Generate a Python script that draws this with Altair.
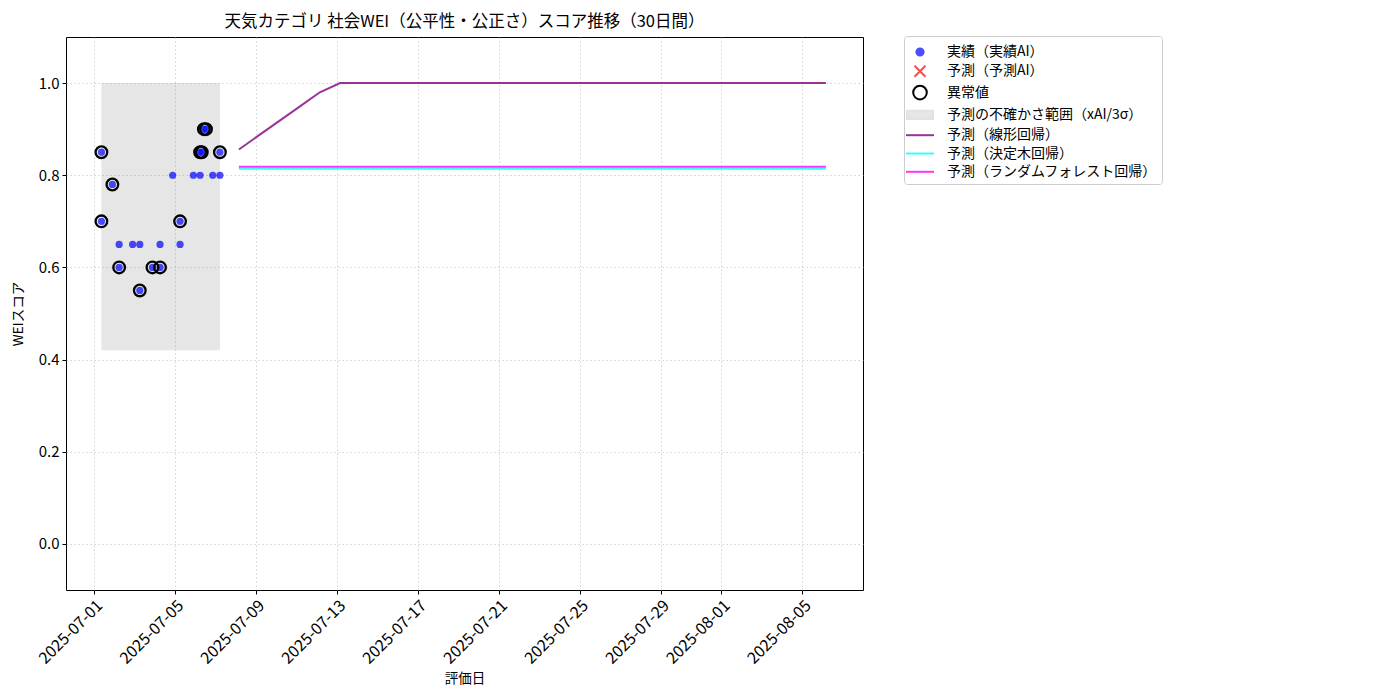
import altair as alt
import pandas as pd

FONT = "Noto Sans CJK JP"

# ---- actual (実績) points ----
act_time = [
    "2025-07-01T09:00", "2025-07-01T09:00", "2025-07-01T22:00",
    "2025-07-02T06:00", "2025-07-02T06:00", "2025-07-02T22:00",
    "2025-07-03T06:30", "2025-07-03T06:30", "2025-07-03T21:30",
    "2025-07-04T06:30", "2025-07-04T06:30", "2025-07-04T21:30",
    "2025-07-05T06:15", "2025-07-05T06:15", "2025-07-05T22:00",
    "2025-07-06T06:00", "2025-07-06T06:00", "2025-07-06T08:00",
    "2025-07-06T10:30", "2025-07-06T13:00", "2025-07-06T21:00",
    "2025-07-07T05:30", "2025-07-07T05:30",
]
act_value = [
    0.85, 0.70, 0.78,
    0.65, 0.60, 0.65,
    0.65, 0.55, 0.60,
    0.65, 0.60, 0.80,
    0.70, 0.65, 0.80,
    0.80, 0.85, 0.85,
    0.90, 0.90, 0.80,
    0.80, 0.85,
]
act_outlier = [
    True, True, True,
    False, True, False,
    False, True, True,
    False, True, False,
    True, False, False,
    False, True, True,
    True, True, False,
    False, True,
]

# ---- uncertainty band ----
band_start = ["2025-07-01T09:00"]
band_end = ["2025-07-07T05:30"]
band_low = [0.42]
band_high = [1.0]

# ---- forecasts (30 days) ----
fc_time = [
    "2025-07-08T04:00", "2025-07-09T04:00", "2025-07-10T04:00", "2025-07-11T04:00",
    "2025-07-12T04:00", "2025-07-13T04:00", "2025-07-14T04:00", "2025-07-15T04:00",
    "2025-07-16T04:00", "2025-07-17T04:00", "2025-07-18T04:00", "2025-07-19T04:00",
    "2025-07-20T04:00", "2025-07-21T04:00", "2025-07-22T04:00", "2025-07-23T04:00",
    "2025-07-24T04:00", "2025-07-25T04:00", "2025-07-26T04:00", "2025-07-27T04:00",
    "2025-07-28T04:00", "2025-07-29T04:00", "2025-07-30T04:00", "2025-07-31T04:00",
    "2025-08-01T04:00", "2025-08-02T04:00", "2025-08-03T04:00", "2025-08-04T04:00",
    "2025-08-05T04:00", "2025-08-06T04:00",
]
fc_linear = [
    0.856, 0.887, 0.918, 0.949, 0.980, 1.0, 1.0, 1.0, 1.0, 1.0,
    1.0, 1.0, 1.0, 1.0, 1.0, 1.0, 1.0, 1.0, 1.0, 1.0,
    1.0, 1.0, 1.0, 1.0, 1.0, 1.0, 1.0, 1.0, 1.0, 1.0,
]
fc_tree = [
    0.8141, 0.8141, 0.8141, 0.8141, 0.8141, 0.8141, 0.8141, 0.8141, 0.8141, 0.8141,
    0.8141, 0.8141, 0.8141, 0.8141, 0.8141, 0.8141, 0.8141, 0.8141, 0.8141, 0.8141,
    0.8141, 0.8141, 0.8141, 0.8141, 0.8141, 0.8141, 0.8141, 0.8141, 0.8141, 0.8141,
]
fc_forest = [
    0.8185, 0.8185, 0.8185, 0.8185, 0.8185, 0.8185, 0.8185, 0.8185, 0.8185, 0.8185,
    0.8185, 0.8185, 0.8185, 0.8185, 0.8185, 0.8185, 0.8185, 0.8185, 0.8185, 0.8185,
    0.8185, 0.8185, 0.8185, 0.8185, 0.8185, 0.8185, 0.8185, 0.8185, 0.8185, 0.8185,
]

# ---- legend entries ----
legend_labels = [
    "実績（実績AI）",
    "予測（予測AI）",
    "異常値",
    "予測の不確かさ範囲（xAI/3σ）",
    "予測（線形回帰）",
    "予測（決定木回帰）",
    "予測（ランダムフォレスト回帰）",
]
legend_fill = ["#4d4dff", "transparent", "transparent", "#e6e6e6",
               "transparent", "transparent", "transparent"]
legend_stroke = ["#4d4dff", "#ff4d4d", "#000000", "#e2e2e2",
                 "#993399", "#33ffff", "#ff33ff"]
legend_shape = [
    "M-0.36,0A0.36,0.36,0,1,1,0.36,0A0.36,0.36,0,1,1,-0.36,0Z",
    "M-0.55,-0.55L0.55,0.55M-0.55,0.55L0.55,-0.55",
    "M-0.68,0A0.68,0.68,0,1,1,0.68,0A0.68,0.68,0,1,1,-0.68,0Z",
    "M-1.3,-0.42L1.3,-0.42L1.3,0.42L-1.3,0.42Z",
    "M-1.4,0L1.4,0",
    "M-1.4,0L1.4,0",
    "M-1.4,0L1.4,0",
]

x_ticks = [
    alt.DateTime(year=2025, month=7, date=1), alt.DateTime(year=2025, month=7, date=5),
    alt.DateTime(year=2025, month=7, date=9), alt.DateTime(year=2025, month=7, date=13),
    alt.DateTime(year=2025, month=7, date=17), alt.DateTime(year=2025, month=7, date=21),
    alt.DateTime(year=2025, month=7, date=25), alt.DateTime(year=2025, month=7, date=29),
    alt.DateTime(year=2025, month=8, date=1), alt.DateTime(year=2025, month=8, date=5),
]
y_ticks = [0.0, 0.2, 0.4, 0.6, 0.8, 1.0]

# ---- tables ----
act_df = pd.DataFrame({"t": act_time, "v": act_value, "o": act_outlier})
out_df = act_df[act_df["o"]]
band_df = pd.DataFrame({"t1": band_start, "t2": band_end, "lo": band_low, "hi": band_high})
fc_df = pd.DataFrame({"t": fc_time, "lin": fc_linear, "tree": fc_tree, "rf": fc_forest})
leg_df = pd.DataFrame({"label": legend_labels, "t": ["2025-05-01T00:00"] * 7, "v": [0.5] * 7})

xscale = alt.Scale(domain=[alt.DateTime(year=2025, month=6, date=29, hours=15),
                           alt.DateTime(year=2025, month=8, date=8, hours=0)])
yscale = alt.Scale(domain=[-0.1, 1.1], nice=False, zero=False)

X = alt.X("t:T", scale=xscale,
          axis=alt.Axis(values=x_ticks, format="%Y-%m-%d", labelAngle=-45,
                        labelAlign="right", labelBaseline="top", labelOverlap=False,
                        labelFontSize=16, title="評価日", titlePadding=5))
Y = alt.Y("v:Q", scale=yscale,
          axis=alt.Axis(values=y_ticks, format=".1f", title="WEIスコア", titlePadding=13))

band = alt.Chart(band_df).mark_rect(fill="gray", opacity=0.2).encode(
    x=alt.X("t1:T", scale=xscale), x2="t2:T",
    y=alt.Y("lo:Q", scale=yscale), y2="hi:Q")

pts = alt.Chart(act_df).mark_circle(size=52, color="#0000ff", opacity=0.7).encode(x=X, y=Y)
rings = alt.Chart(out_df).mark_point(filled=False, size=135, stroke="black",
                                     strokeWidth=2.3, opacity=1).encode(x=X, y=Y)

def fc_line(col, color):
    return alt.Chart(fc_df).mark_line(stroke=color, strokeWidth=2).encode(
        x=alt.X("t:T", scale=xscale), y=alt.Y(f"{col}:Q", scale=yscale))

lin = fc_line("lin", "#993399")
tree = fc_line("tree", "#33ffff")
rf = fc_line("rf", "#ff33ff")

leg = alt.Legend(title=None, orient="none", legendX=838, legendY=-1,
                 symbolSize=400, symbolStrokeWidth=2, labelFont=FONT, labelFontSize=14,
                 labelColor="black", labelOffset=16, strokeColor="#cccccc", cornerRadius=3,
                 padding=5, rowPadding=0.3, fillColor="white", labelLimit=400)
dummy = alt.Chart(leg_df).mark_point(clip=True, opacity=1).encode(
    x=alt.X("t:T", scale=xscale), y=alt.Y("v:Q", scale=yscale),
    fill=alt.Fill("label:N", scale=alt.Scale(domain=legend_labels, range=legend_fill), legend=leg),
    stroke=alt.Stroke("label:N", scale=alt.Scale(domain=legend_labels, range=legend_stroke), legend=leg),
    shape=alt.Shape("label:N", scale=alt.Scale(domain=legend_labels, range=legend_shape), legend=leg),
)

chart = alt.layer(band, pts, rings, lin, tree, rf, dummy).properties(
    width=797, height=553,
    title=alt.TitleParams("天気カテゴリ 社会WEI（公平性・公正さ）スコア推移（30日間）",
                          font=FONT, fontSize=16.5, fontWeight="normal", anchor="middle",
                          color="black", offset=5),
    autosize=alt.AutoSizeParams(type="none"),
    padding={"left": 58, "top": 29, "right": 500, "bottom": 100},
).configure_axis(
    labelFont=FONT, labelFontSize=15, labelColor="black",
    titleFont=FONT, titleFontSize=13.5, titleFontWeight="normal", titleColor="black",
    domain=False, tickColor="black", tickSize=4, labelPadding=3,
    grid=True, gridColor="#c8c8c8", gridDash=[1.5, 2.5], gridWidth=0.8,
).configure_view(stroke="black", strokeWidth=1)

chart.save("out.html", embed_options={"renderer": "svg", "actions": False})
